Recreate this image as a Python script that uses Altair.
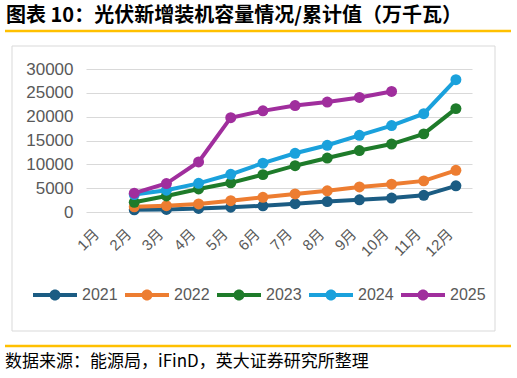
import altair as alt
import pandas as pd

# Cumulative newly installed PV capacity by month (10k kW)
months = ["1月", "2月", "3月", "4月", "5月", "6月", "7月", "8月", "9月", "10月", "11月", "12月"]
years = ["2021", "2022", "2023", "2024", "2025"]
v2021 = [None, 460, 533, 734, 1001, 1301, 1752, 2200, 2556, 2931, 3500, 5488]
v2022 = [None, 1086, 1321, 1688, 2371, 3088, 3778, 4447, 5260, 5824, 6531, 8741]
v2023 = [None, 2043, 3366, 4831, 6121, 7842, 9716, 11316, 12894, 14256, 16388, 21688]
v2024 = [None, 3667, 4574, 6011, 7915, 10248, 12315, 13999, 16088, 18130, 20630, 27757]
v2025 = [None, 3947, 5971, 10493, 19785, 21221, 22325, 23061, 24027, 25287, None, None]
colors = ["#1B5C83", "#ED7D31", "#1E7B2A", "#1AA1DC", "#A02E9D"]
y_ticks = [0, 5000, 10000, 15000, 20000, 25000, 30000]

title_text = "图表 10：光伏新增装机容量情况/累计值（万千瓦）"
source_text = "数据来源：能源局，iFinD，英大证券研究所整理"

series = dict(zip(years, [v2021, v2022, v2023, v2024, v2025]))
rows = [
    {"year": y, "month": m, "value": v}
    for y, vals in series.items()
    for m, v in zip(months, vals)
    if v is not None
]
df = pd.DataFrame(rows)

GRAY = "#595959"
GRID = "#D9D9D9"
GOLD = "#FFC000"

x_enc = alt.X(
    "month:O",
    sort=months,
    scale=alt.Scale(domain=months, padding=0.5),
    axis=alt.Axis(
        title=None, labelAngle=-45, labelAlign="right", labelBaseline="middle",
        labelFontSize=15, labelColor=GRAY,
        labelFont="Liberation Sans, Noto Sans CJK SC",
        labelPadding=19, labelOffset=-6,
        ticks=False, domain=False, grid=False,
    ),
)
y_enc = alt.Y(
    "value:Q",
    scale=alt.Scale(domain=[0, 30000], nice=False),
    axis=alt.Axis(
        title=None, values=y_ticks, format="d", labelFontSize=17,
        labelColor=GRAY, labelFont="Liberation Sans", labelPadding=13,
        ticks=False, domain=False, grid=True, gridColor=GRID, gridWidth=1,
    ),
)
color_scale = alt.Scale(domain=years, range=colors)

# legend symbol: a short line with a dot in the middle
legend_path = (
    "M-1,-0.09H1V0.09H-1Z "
    "M0.25,0A0.25,0.25,0,1,1,-0.25,0A0.25,0.25,0,1,1,0.25,0Z"
)

series_lines = alt.Chart(df).mark_line(
    strokeWidth=4,
    point=alt.OverlayMarkDef(filled=True, size=120, opacity=1),
).encode(
    x=x_enc, y=y_enc,
    color=alt.Color(
        "year:N", scale=color_scale,
        legend=alt.Legend(
            title=None, orient="none", direction="horizontal",
            legendX=-53, legendY=204, padding=0,
            symbolType=legend_path, symbolSize=1936, symbolStrokeWidth=0,
            symbolOpacity=1,
            labelFontSize=16, labelColor=GRAY, labelFont="Liberation Sans",
            labelOffset=5, columnPadding=7,
        ),
    ),
)

one = pd.DataFrame({"k": [0]})

frame = alt.Chart(one).mark_rect(fillOpacity=0, stroke=GRID, strokeWidth=1).encode(
    x=alt.value(-74), x2=alt.value(409), y=alt.value(-23), y2=alt.value(262)
)
top_rule = alt.Chart(one).mark_rule(color=GOLD, strokeWidth=2.5).encode(
    x=alt.value(-81), x2=alt.value(425), y=alt.value(-38)
)
bottom_rule = alt.Chart(one).mark_rule(color=GOLD, strokeWidth=2.5).encode(
    x=alt.value(-81), x2=alt.value(425), y=alt.value(277)
)
title = alt.Chart(one).mark_text(
    align="left", baseline="middle", fontSize=20, fontWeight="bold",
    font="Noto Sans CJK SC", color="#000000",
).encode(x=alt.value(-80), y=alt.value(-53), text=alt.value(title_text))
source = alt.Chart(one).mark_text(
    align="left", baseline="middle", fontSize=17,
    font="Noto Sans CJK SC", color="#000000",
).encode(x=alt.value(-81), y=alt.value(293), text=alt.value(source_text))

chart = alt.layer(
    frame, series_lines, top_rule, bottom_rule, title, source
).properties(
    width=386, height=143,
    autosize=alt.AutoSizeParams(type="none"),
    padding={"left": 86, "top": 69, "right": 45, "bottom": 166},
    background="white",
).configure_view(stroke=None)

chart.save("out.html", embed_options={"renderer": "svg", "actions": False})
